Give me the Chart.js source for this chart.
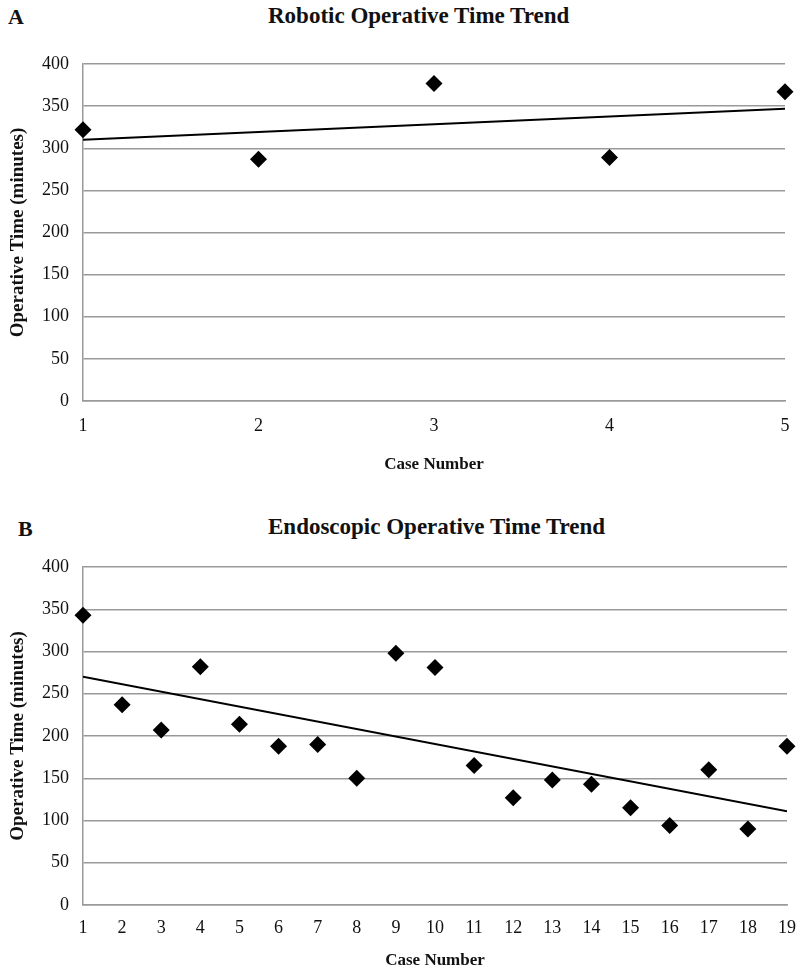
<!DOCTYPE html>
<html>
<head>
<meta charset="utf-8">
<script src="https://cdn.jsdelivr.net/npm/chart.js@4"></script>
<style>
  body { margin: 0; background: #fff; width: 800px; height: 971px; position: relative; overflow: hidden; }
  .panel { position: absolute; left: 0; width: 800px; }
  .letter, .title { position: absolute; font-family: "Liberation Serif", serif; font-weight: bold; color: #111; white-space: nowrap; }
  .letter { font-size: 22px; }
  .title { font-size: 23px; }
</style>
</head>
<body>
<div class="letter" style="left:8px; top:4px;">A</div>
<div class="title" style="left:268px; top:3px;">Robotic Operative Time Trend</div>
<div class="panel" style="top:0; height:485px;"><canvas id="chartA" width="800" height="485"></canvas></div>

<div class="letter" style="left:18px; top:516px;">B</div>
<div class="title" style="left:268px; top:514px;">Endoscopic Operative Time Trend</div>
<div class="panel" style="top:485px; height:486px;"><canvas id="chartB" width="800" height="486"></canvas></div>

<script>
// Panel A - robotic cases
const roboticCases = [1, 2, 3, 4, 5];
const roboticTimes = [322, 287, 377, 289, 367];
const roboticTrend = [310, 347]; // trend line at first and last case

// Panel B - endoscopic cases
const endoCases = [1, 2, 3, 4, 5, 6, 7, 8, 9, 10, 11, 12, 13, 14, 15, 16, 17, 18, 19];
const endoTimes = [343, 237, 207, 282, 214, 188, 190, 150, 298, 281, 165, 127, 148, 143, 115, 94, 160, 90, 188];
const endoTrend = [270, 111];

const yMin = 0, yMax = 400, yStep = 50;
const xTitle = 'Case Number';
const yTitle = 'Operative Time (minutes)';

const serif = "'Liberation Serif', 'Times New Roman', serif";
const gridColor = '#999';

function makeChart(id, cases, times, trend, pad, xHeight, tickPad, xTitlePad) {
    const pts = cases.map((c, i) => ({ x: c, y: times[i] }));
    const line = [
        { x: cases[0], y: trend[0] },
        { x: cases[cases.length - 1], y: trend[1] }
    ];
    const ctx = document.getElementById(id).getContext('2d');
    return new Chart(ctx, {
        type: 'scatter',
        data: {
            datasets: [{
                data: pts,
                pointStyle: 'rectRot',
                pointRadius: 8.5,
                backgroundColor: '#000',
                borderColor: '#000',
                borderWidth: 0,
                clip: false
            }, {
                type: 'line',
                data: line,
                borderColor: '#000',
                borderWidth: 2,
                pointRadius: 0,
                fill: false
            }]
        },
        options: {
            responsive: false,
            animation: false,
            layout: { padding: pad },
            plugins: { legend: { display: false }, tooltip: { enabled: false } },
            scales: {
                x: {
                    type: 'linear',
                    min: cases[0],
                    max: cases[cases.length - 1],
                    afterFit: function(scale) { scale.height = xHeight; },
                    grid: { display: false },
                    border: { display: true, color: gridColor, width: 1.5 },
                    ticks: { stepSize: 1, padding: tickPad, color: '#111', font: { family: serif, size: 18 } },
                    title: {
                        display: true, text: xTitle, color: '#111',
                        font: { family: serif, size: 17, weight: 'bold' },
                        padding: { top: 0, bottom: xTitlePad }
                    }
                },
                y: {
                    min: yMin,
                    max: yMax,
                    afterFit: function(scale) { scale.width = 83; },
                    grid: { color: gridColor, lineWidth: 1.5, drawTicks: false },
                    border: { display: true, color: gridColor, width: 1.5 },
                    ticks: { stepSize: yStep, padding: 14, color: '#111', font: { family: serif, size: 18 } },
                    title: {
                        display: true, text: yTitle, color: '#111',
                        font: { family: serif, size: 19, weight: 'bold' },
                        padding: { top: 7, bottom: 0 }
                    }
                }
            }
        }
    });
}

makeChart('chartA', roboticCases, roboticTimes, roboticTrend, { top: 64, right: 15, left: 0, bottom: 0 }, 84, 6, 10);
makeChart('chartB', endoCases, endoTimes, endoTrend, { top: 82, right: 4, left: 0, bottom: 0 }, 66, 4, 0);
</script>
</body>
</html>
